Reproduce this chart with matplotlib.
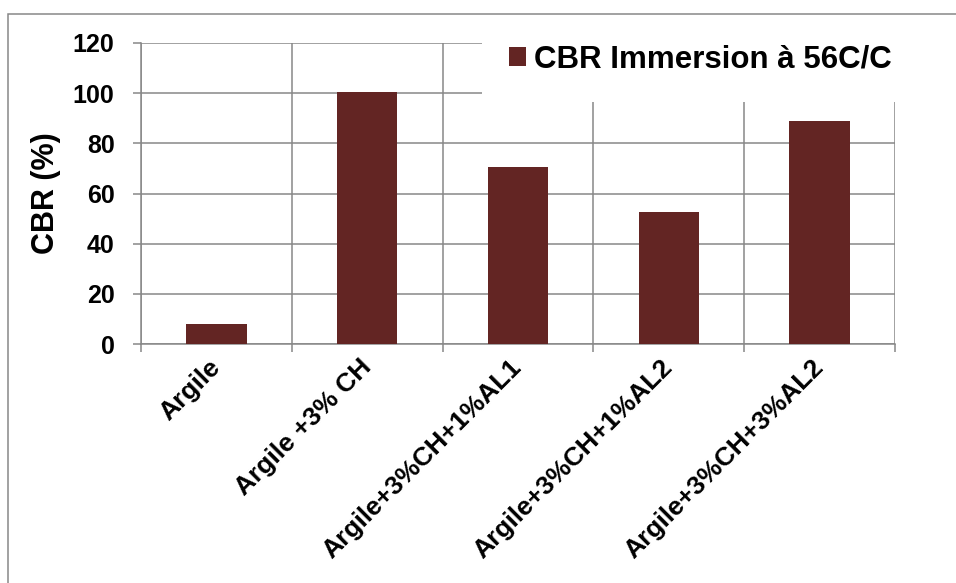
import matplotlib.pyplot as plt
import numpy as np
from matplotlib.patches import Rectangle

categories = ["Argile", "Argile +3% CH", "Argile+3%CH+1%AL1",
              "Argile+3%CH+1%AL2", "Argile+3%CH+3%AL2"]
cbr_values = [8, 100.5, 70.5, 52.5, 88.8]
series_name = "CBR Immersion à 56C/C"
y_ticks = [0, 20, 40, 60, 80, 100, 120]

bar_color = "#632523"
grid_color = "#878787"

plt.rcParams['font.family'] = ['Liberation Sans', 'DejaVu Sans']
plt.rcParams['font.weight'] = 'bold'


def main():
    fig = plt.figure(figsize=(9.56, 5.83), dpi=100)
    ax = fig.add_axes([141 / 956, 1 - 344 / 583, 754 / 956, 301 / 583])

    x = np.arange(len(categories))
    ax.bar(x, cbr_values, width=0.4, color=bar_color, label=series_name, zorder=3)

    ax.set_xlim(-0.5, len(categories) - 0.5)
    ax.set_ylim(0, 120)
    ax.set_yticks(y_ticks)
    ax.set_yticklabels([str(v) for v in y_ticks], fontsize=18, fontweight='bold')

    # labels sit at category centres, ticks and vertical grid at the boundaries
    ax.set_xticks(x)
    ax.set_xticklabels(categories, fontsize=19, fontweight='bold', rotation=45,
                       ha='right', va='center', rotation_mode='anchor')
    ax.set_xticks(np.arange(len(categories) + 1) - 0.5, minor=True)
    ax.tick_params(axis='x', which='major', length=0, pad=14)
    ax.tick_params(axis='x', which='minor', length=6, width=1.1, color=grid_color)
    ax.tick_params(axis='y', length=6, width=1.1, color=grid_color, pad=13)

    ax.grid(axis='y', which='major', color=grid_color, linewidth=1.1, zorder=0)
    ax.grid(axis='x', which='minor', color=grid_color, linewidth=1.1, zorder=0)
    ax.set_axisbelow(True)
    for side in ['top', 'right']:
        ax.spines[side].set_visible(False)
    for side in ['left', 'bottom']:
        ax.spines[side].set_color(grid_color)
        ax.spines[side].set_linewidth(1.1)

    ax.set_ylabel("CBR (%)", fontsize=22, fontweight='bold')
    ax.yaxis.set_label_coords(-0.106, 0.5)

    leg = ax.legend(loc='center left', bbox_to_anchor=(482 / 956, 1 - 60 / 583),
                    bbox_transform=fig.transFigure, borderaxespad=0,
                    prop={'size': 22.5, 'weight': 'bold'},
                    handlelength=0.56, handleheight=0.56, handletextpad=0.25,
                    borderpad=0.85, fancybox=False, framealpha=1)
    leg.get_frame().set_facecolor('white')
    leg.get_frame().set_edgecolor('none')

    # chart area outline
    fig.patches.append(Rectangle((8 / 956, -0.1), 1.1, 1 - 14 / 583 + 0.1,
                                 transform=fig.transFigure, fill=False,
                                 edgecolor=grid_color, linewidth=1.1))

    fig.savefig("out.png", dpi=100)


if __name__ == "__main__":
    main()
